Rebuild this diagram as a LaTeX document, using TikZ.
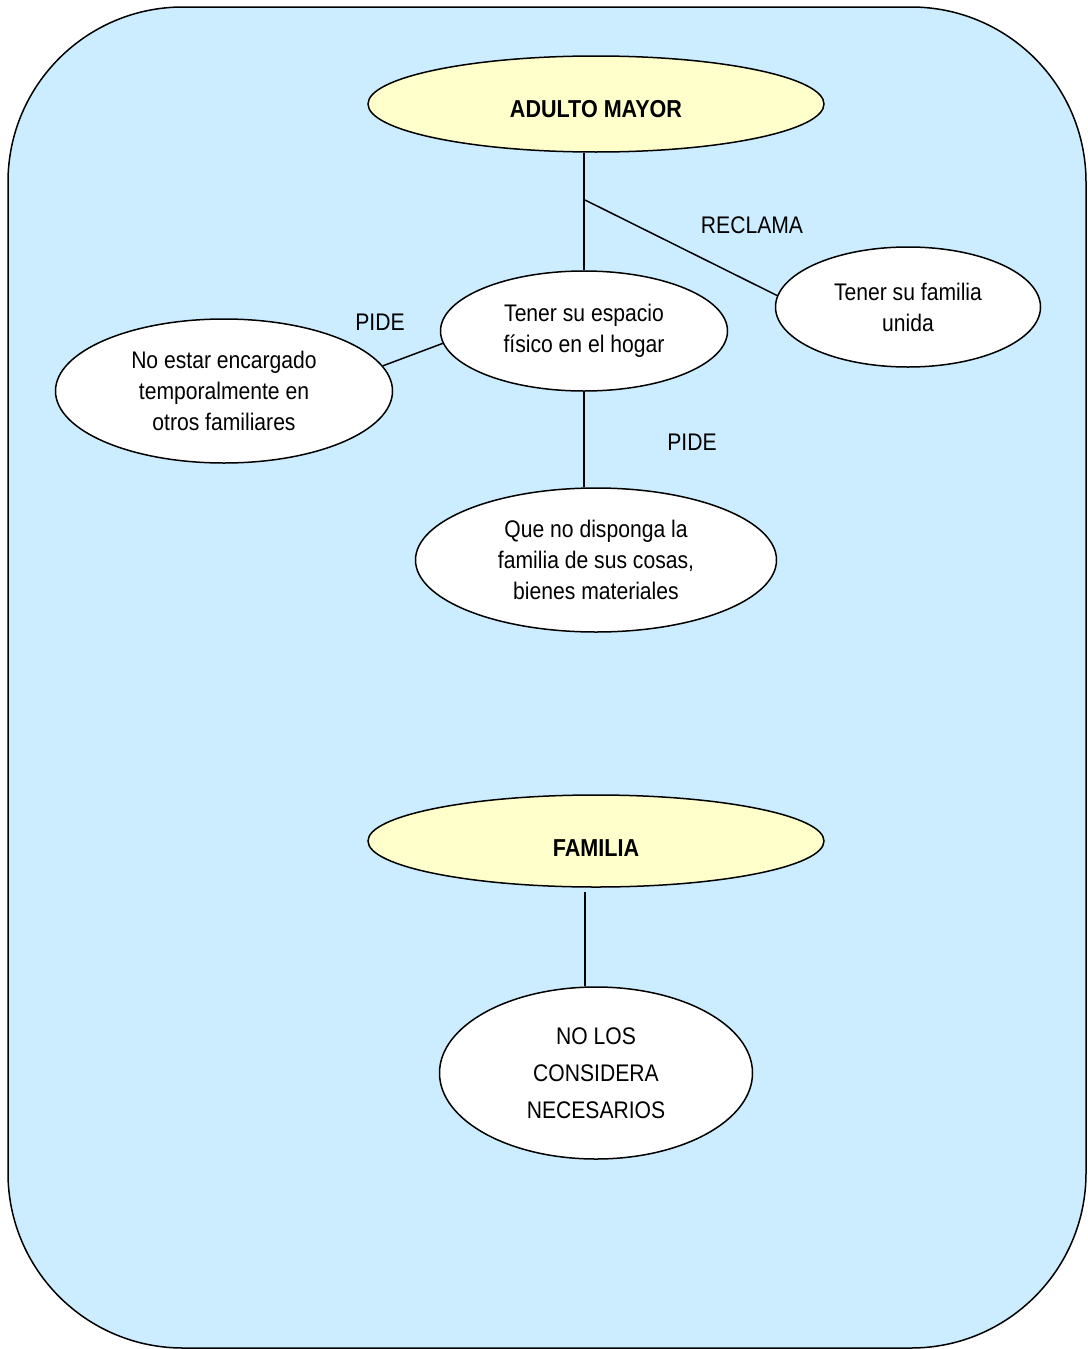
\documentclass[tikz,border=0pt]{standalone}
\usepackage{fontspec}
\setmainfont{Liberation Sans}[FakeStretch=0.88]
\usetikzlibrary{shapes.geometric}
\definecolor{panelblue}{HTML}{CCECFF}
\definecolor{headyellow}{HTML}{FFFFCC}
\begin{document}
\begin{tikzpicture}[x=1pt,y=-1pt,
  txt/.style={font=\fontsize{24}{31}\selectfont, align=center, inner sep=0pt},
  bubble/.style={txt, ellipse, draw=black, line width=1.5pt, fill=white},
  headbubble/.style={bubble, fill=headyellow, font=\fontsize{24.5}{31}\selectfont\bfseries},
  link/.style={draw=black, line width=1.5pt},
  tag/.style={txt}]
\useasboundingbox (0,0) rectangle (1087,1349);

% background panel
\draw[fill=panelblue, line width=1.5pt, rounded corners=175pt] (8,7) rectangle (1086,1348);

% upper map
\node[headbubble, minimum width=456pt, minimum height=96pt] (adulto) at (596,104) {\raisebox{0pt}[26pt][0pt]{ADULTO MAYOR}};
\node[bubble, minimum width=287pt, minimum height=120pt] (espacio) at (584,331) {Tener su espacio\\físico en el hogar};
\node[bubble, minimum width=265pt, minimum height=120pt] (unida) at (908,307) {Tener su familia\\unida};
\node[bubble, minimum width=337pt, minimum height=144pt] (encargado) at (224,391) {No estar encargado\\temporalmente en\\otros familiares};
\node[bubble, minimum width=361pt, minimum height=144pt] (cosas) at (596,560) {Que no disponga la\\familia de sus cosas,\\bienes materiales};

\coordinate (branch) at (585,200);
\draw[link] (espacio.north |- adulto.south) -- (espacio.north);
\draw[link] (branch) -- (unida.175);
\draw[link] (encargado.9) -- (espacio.185);
\draw[link] (espacio.south) -- (espacio.south |- cosas.north);

\node[tag] (reclama) at (752,225) {RECLAMA};
\node[tag] (pide1) at (380,322) {PIDE};
\node[tag] (pide2) at (692,442) {PIDE};

% lower map
\node[headbubble, minimum width=456pt, minimum height=92pt] (familia) at (596,841) {\raisebox{0pt}[31pt][0pt]{FAMILIA}};
\node[bubble, minimum width=313pt, minimum height=172pt, font=\fontsize{24}{37}\selectfont] (necesarios) at (596,1073) {NO LOS\\CONSIDERA\\NECESARIOS};
\draw[link] ([xshift=-11pt,yshift=-4pt]familia.south) -- ([xshift=-11pt]necesarios.north);
\end{tikzpicture}
\end{document}
